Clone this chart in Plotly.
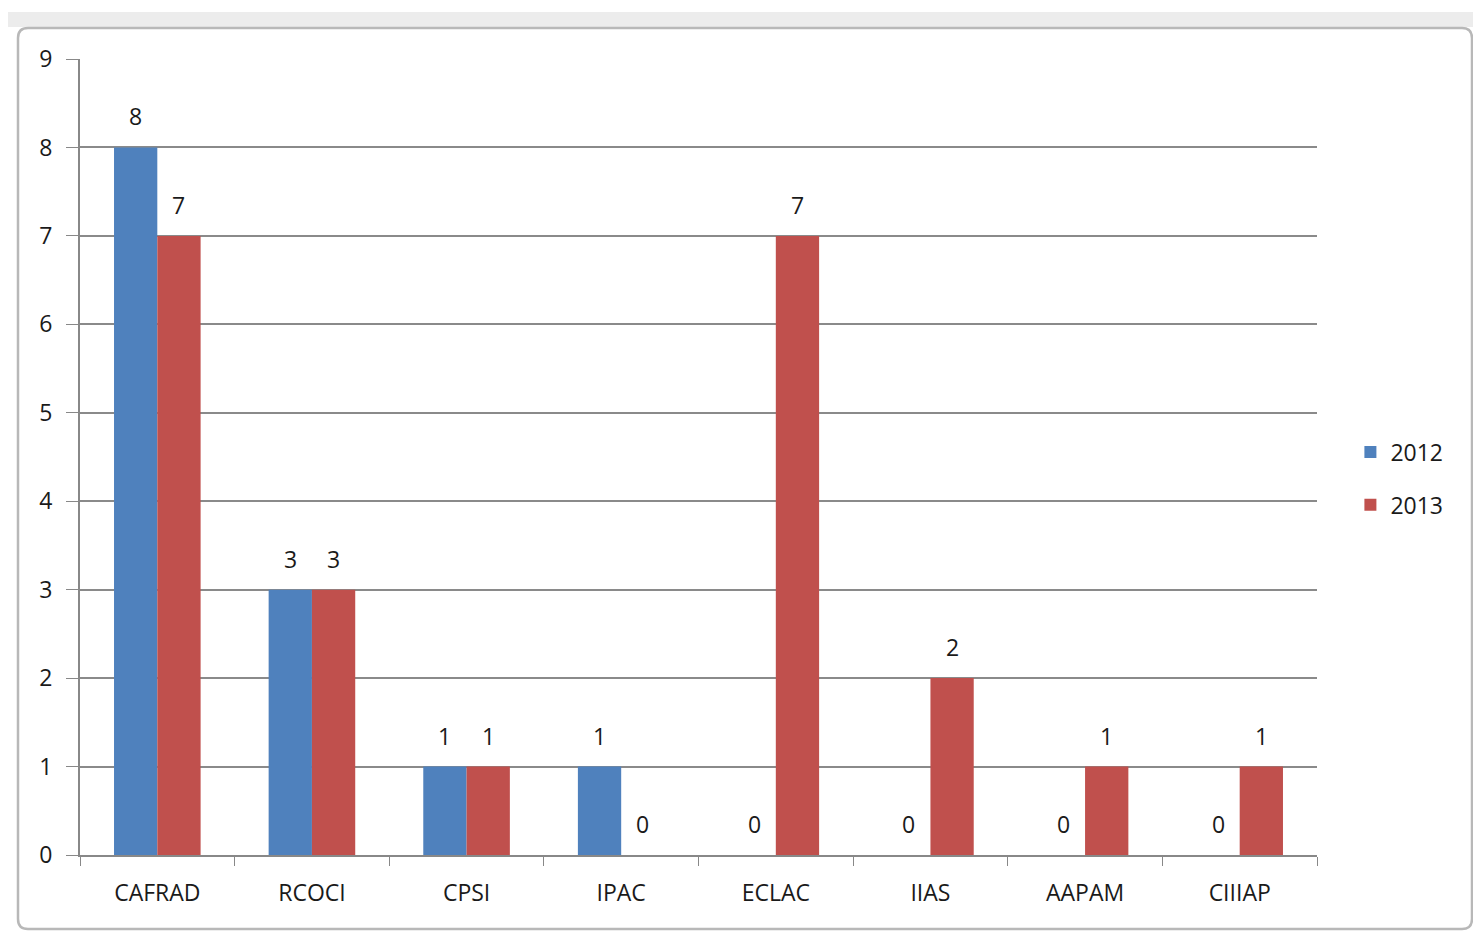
import plotly.graph_objects as go

categories = ["CAFRAD", "RCOCI", "CPSI", "IPAC", "ECLAC", "IIAS", "AAPAM", "CIIIAP"]
values_2012 = [8, 3, 1, 1, 0, 0, 0, 0]
values_2013 = [7, 3, 1, 0, 7, 2, 1, 1]
y_ticks = list(range(0, 10))

# page body has an 8px offset, compensate
OFF = 8
W, H = 1481 - OFF, 933 - OFF
ML, MR, MT, MB = 80 - OFF, 164, 59 - OFF, 78
FONT = "Open Sans"
TXT = "#1a1a1a"
FS = 23

fig = go.Figure()
fig.add_trace(go.Bar(name="2012", x=categories, y=values_2012, marker_color="#4F81BD",
                     marker_line_width=0, legendgroup="a"))
fig.add_trace(go.Bar(name="2013", x=categories, y=values_2013, marker_color="#C0504D",
                     marker_line_width=0, legendgroup="b"))

pw, ph = W - ML - MR, H - MT - MB
cat_w = pw / len(categories)
bargap = 0.44
bar_w = cat_w * (1 - bargap) / 2

annotations = []
for series, shift in ((values_2012, -bar_w / 2), (values_2013, bar_w / 2)):
    for c, v in zip(categories, series):
        annotations.append(dict(x=c, y=v, xref="x", yref="y", text=str(v), showarrow=False,
                                xshift=shift, yshift=31, font=dict(size=FS, color=TXT, family=FONT)))

fig.update_layout(
    width=W, height=H,
    barmode="group", bargap=bargap, bargroupgap=0,
    paper_bgcolor="white", plot_bgcolor="white",
    margin=dict(l=ML, r=MR, t=MT, b=MB),
    font=dict(family=FONT, size=FS, color=TXT),
    legend=dict(x=1.027, y=0.473, xanchor="left", yanchor="middle",
                font=dict(size=FS, family=FONT, color=TXT), tracegroupgap=20,
                bgcolor="rgba(0,0,0,0)"),
    showlegend=True,
    annotations=annotations,
)
fig.update_xaxes(type="category", tickson="boundaries", ticks="outside", ticklen=9,
                 tickcolor="#888888", showline=True, linecolor="#888888", linewidth=2,
                 showgrid=False, tickfont=dict(size=FS), ticklabelstandoff=16)
fig.update_yaxes(range=[0, 9], tickvals=y_ticks, ticks="outside", ticklen=12,
                 tickcolor="#888888", showline=True, linecolor="#888888", linewidth=2,
                 showgrid=True, gridcolor="#8a8a8a", gridwidth=1.5, zeroline=False,
                 tickfont=dict(size=FS), ticklabelstandoff=9)

# spreadsheet-style frame around the chart (screen pixel coords -> paper coords)
def px(x): return (x - OFF - ML) / pw
def py(y): return (H - MB - (y - OFF)) / ph

fig.add_shape(type="rect", xref="paper", yref="paper", x0=px(0), x1=px(1481), y0=py(12), y1=py(27),
              fillcolor="#ececec", line_width=0, layer="below")
r = 10
x0, x1, y0, y1 = 18, 1472, 28, 929
pts = [("M", x0 + r, y0), ("L", x1 - r, y0), ("Q", x1, y0, x1, y0 + r), ("L", x1, y1 - r),
       ("Q", x1, y1, x1 - r, y1), ("L", x0 + r, y1), ("Q", x0, y1, x0, y1 - r),
       ("L", x0, y0 + r), ("Q", x0, y0, x0 + r, y0)]
parts = []
for p in pts:
    cmd = p[0]
    coords = p[1:]
    s = " ".join(f"{px(coords[i]):.5f},{py(coords[i+1]):.5f}" for i in range(0, len(coords), 2))
    parts.append(f"{cmd} {s}")
path = " ".join(parts) + " Z"
fig.add_shape(type="path", xref="paper", yref="paper", path=path,
              line=dict(color="#b8b8b8", width=2.5), fillcolor="rgba(0,0,0,0)", layer="below")

fig.write_html("out.html")
